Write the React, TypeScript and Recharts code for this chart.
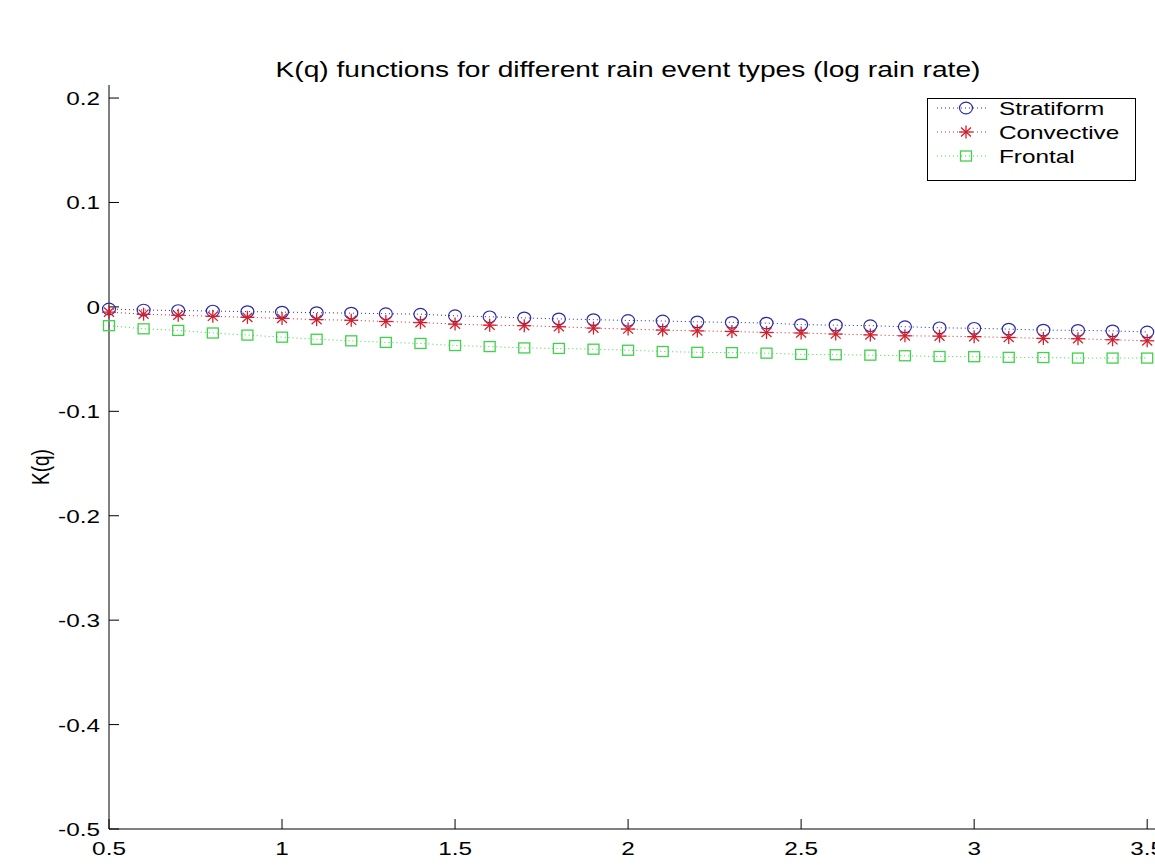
import React from 'react';
import { LineChart, Line, XAxis, YAxis } from 'recharts';

const qValues = [0.5, 0.6, 0.7, 0.8, 0.9, 1.0, 1.1, 1.2, 1.3, 1.4, 1.5, 1.6, 1.7, 1.8, 1.9, 2.0, 2.1, 2.2, 2.3, 2.4, 2.5, 2.6, 2.7, 2.8, 2.9, 3.0, 3.1, 3.2, 3.3, 3.4, 3.5];
const stratiform = [-0.002, -0.003, -0.0035, -0.004, -0.0045, -0.005, -0.0055, -0.006, -0.0065, -0.007, -0.0085, -0.0095, -0.0105, -0.0115, -0.0122, -0.013, -0.0135, -0.0143, -0.0148, -0.0155, -0.017, -0.0175, -0.018, -0.019, -0.02, -0.0205, -0.0213, -0.0222, -0.0225, -0.023, -0.024];
const convective = [-0.005, -0.007, -0.008, -0.009, -0.01, -0.011, -0.0122, -0.0128, -0.014, -0.015, -0.0165, -0.0175, -0.018, -0.019, -0.0203, -0.0212, -0.0222, -0.023, -0.0235, -0.0245, -0.025, -0.026, -0.0268, -0.0277, -0.028, -0.0285, -0.0293, -0.0302, -0.0305, -0.0315, -0.0325];
const frontal = [-0.018, -0.021, -0.0225, -0.025, -0.027, -0.029, -0.031, -0.0325, -0.034, -0.035, -0.037, -0.038, -0.0393, -0.0398, -0.0405, -0.0415, -0.0427, -0.0435, -0.0438, -0.0443, -0.0455, -0.0458, -0.0462, -0.0468, -0.0475, -0.0477, -0.0483, -0.0485, -0.049, -0.049, -0.049];

const xTicks = [0.5, 1, 1.5, 2, 2.5, 3, 3.5];
const xTickLabels = ['0.5', '1', '1.5', '2', '2.5', '3', '3.5'];
const yTicks = [0.2, 0.1, 0, -0.1, -0.2, -0.3, -0.4, -0.5];
const yTickLabels = ['0.2', '0.1', '0', '-0.1', '-0.2', '-0.3', '-0.4', '-0.5'];
const seriesNames = ['Stratiform', 'Convective', 'Frontal'];
const titleText = 'K(q) functions for different rain event types (log rain rate)';
const yLabelText = 'K(q)';

const data = qValues.map((q, i) => ({ q, s: stratiform[i], c: convective[i], f: frontal[i] }));

const FONT = "'Liberation Sans', Arial, sans-serif";
const SX = 1.28;
const BLUE = '#2a2aa8';
const RED = '#d41f2c';
const GREEN = '#3fd24a';

const CircleMark = ({ cx, cy }: { cx: number; cy: number }) => (
  <ellipse cx={cx} cy={cy} rx={6.5} ry={5.8} fill="none" stroke={BLUE} strokeWidth={1.2} />
);
const StarMark = ({ cx, cy }: { cx: number; cy: number }) => (
  <g stroke={RED} strokeWidth={1.3}>
    <line x1={cx - 7} y1={cy} x2={cx + 7} y2={cy} />
    <line x1={cx} y1={cy - 6.5} x2={cx} y2={cy + 6.5} />
    <line x1={cx - 5} y1={cy - 4.6} x2={cx + 5} y2={cy + 4.6} />
    <line x1={cx - 5} y1={cy + 4.6} x2={cx + 5} y2={cy - 4.6} />
    <circle cx={cx} cy={cy} r={1.5} fill={RED} stroke="none" />
  </g>
);
const SquareMark = ({ cx, cy }: { cx: number; cy: number }) => (
  <rect x={cx - 5.5} y={cy - 5} width={11} height={10} fill="none" stroke={GREEN} strokeWidth={1.3} />
);

const XTick = (props: any) => {
  const { x, y, payload } = props;
  const idx = xTicks.indexOf(payload.value);
  return (
    <g transform={`translate(${x},${y + 15}) scale(${SX},1)`}>
      <text x={0} y={0} textAnchor="middle" fontFamily={FONT} fontSize={19} fill="#000">
        {idx >= 0 ? xTickLabels[idx] : String(payload.value)}
      </text>
    </g>
  );
};
const YTick = (props: any) => {
  const { x, y, payload } = props;
  const idx = yTicks.findIndex((t) => Math.abs(t - payload.value) < 1e-9);
  return (
    <g transform={`translate(${x},${y + 7}) scale(${SX},1)`}>
      <text x={0} y={0} textAnchor="end" fontFamily={FONT} fontSize={19} fill="#000">
        {idx >= 0 ? yTickLabels[idx] : String(payload.value)}
      </text>
    </g>
  );
};

const YLabel = (props: any) => {
  const vb = props.viewBox || { x: 0, y: 0, width: 109, height: 744 };
  const cx = vb.x + 40;
  const cy = vb.y + vb.height / 2 + 10;
  return (
    <g transform={`translate(${cx},${cy}) rotate(-90) scale(1,${SX})`}>
      <text x={0} y={7} textAnchor="middle" fontFamily={FONT} fontSize={19} fill="#000">{yLabelText}</text>
    </g>
  );
};

const markers = [CircleMark, StarMark, SquareMark];
const colors = [BLUE, RED, GREEN];

export default function App() {
  return (
    <div style={{ position: 'absolute', left: 0, top: 0, width: 1155, height: 866, overflow: 'hidden', background: '#fff' }}>
      <LineChart width={1251} height={866} data={data} margin={{ top: 85, right: 0, bottom: 0, left: 0 }}>
        <XAxis
          dataKey="q"
          type="number"
          domain={[0.5, 3.8]}
          ticks={xTicks}
          height={37}
          tickSize={-10}
          tickMargin={21}
          stroke="#000"
          tick={<XTick />}
          axisLine={{ stroke: '#000' }}
          tickLine={{ stroke: '#000' }}
        />
        <YAxis
          type="number"
          domain={[-0.5, 0.2125]}
          ticks={yTicks}
          width={109}
          tickSize={-10}
          tickMargin={19}
          tick={<YTick />}
          axisLine={{ stroke: '#000' }}
          tickLine={{ stroke: '#000' }}
          label={<YLabel />}
        />
        <Line
          dataKey="s"
          stroke={BLUE}
          strokeWidth={1}
          strokeDasharray="1 3"
          isAnimationActive={false}
          dot={(p: any) => <CircleMark key={`s${p.index}`} cx={p.cx} cy={p.cy} />}
        />
        <Line
          dataKey="c"
          stroke={RED}
          strokeWidth={1}
          strokeDasharray="1 3"
          isAnimationActive={false}
          dot={(p: any) => <StarMark key={`c${p.index}`} cx={p.cx} cy={p.cy} />}
        />
        <Line
          dataKey="f"
          stroke={GREEN}
          strokeWidth={1}
          strokeDasharray="1 3"
          isAnimationActive={false}
          dot={(p: any) => <SquareMark key={`f${p.index}`} cx={p.cx} cy={p.cy} />}
        />
      </LineChart>
      <svg width={1155} height={866} style={{ position: 'absolute', left: 0, top: 0, pointerEvents: 'none' }}>
        <g transform={`translate(628,77) scale(${SX},1)`}>
          <text x={0} y={0} textAnchor="middle" fontFamily={FONT} fontSize={22} fill="#000">{titleText}</text>
        </g>
        <rect x={927.5} y={98.5} width={208} height={82} fill="#fff" stroke="#000" strokeWidth={1} />
        {seriesNames.map((name, i) => {
          const cy = 108 + i * 24;
          const M = markers[i];
          return (
            <g key={name}>
              <line x1={937} y1={cy} x2={987} y2={cy} stroke={colors[i]} strokeWidth={1} strokeDasharray="1 3" />
              <M cx={966} cy={cy} />
              <g transform={`translate(999,${cy + 7}) scale(${SX},1)`}>
                <text x={0} y={0} fontFamily={FONT} fontSize={19} fill="#000">{name}</text>
              </g>
            </g>
          );
        })}
      </svg>
    </div>
  );
}
